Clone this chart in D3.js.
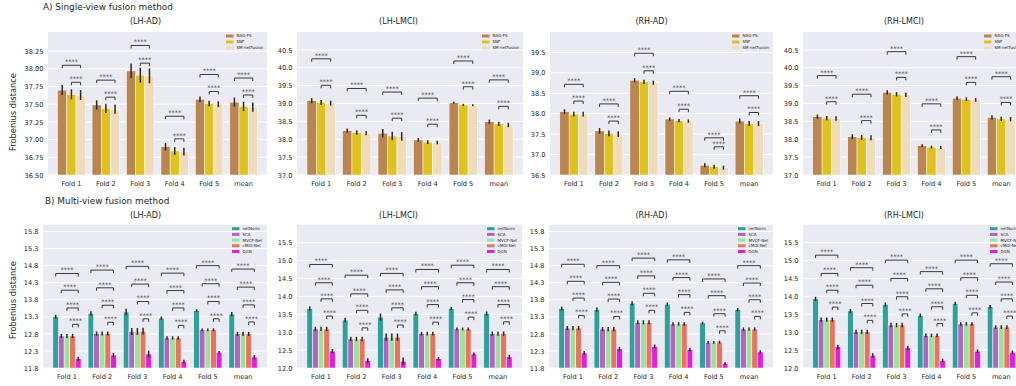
<!DOCTYPE html>
<html>
<head>
<meta charset="utf-8">
<script src="https://cdn.jsdelivr.net/npm/d3@7"></script>
<style>
  html, body { margin: 0; padding: 0; background: #ffffff; }
  svg { display: block; font-family: "DejaVu Sans", sans-serif; }
</style>
</head>
<body>
<svg id="fig" width="1016" height="386"></svg>
<script>
// ---------- categories and labels ----------
const folds = ["Fold 1", "Fold 2", "Fold 3", "Fold 4", "Fold 5", "mean"];
const singleMethods = ["NAG-FS", "SNF", "SM-netFusion"];
const singleColors = ["#bb8551", "#dfc120", "#efdcba"];
const multiMethods = ["netNorm", "SCA", "MVCF-Net", "cMGI-Net", "DGN"];
const multiColors = ["#32a09a", "#b065c3", "#9ce29c", "#e8735e", "#df20df"];
const sectionTitles = ["A) Single-view fusion method", "B) Multi-view fusion method"];
const panelTitles = ["(LH-AD)", "(LH-LMCI)", "(RH-AD)", "(RH-LMCI)"];
const yLabel = "Frobenius distance";
const sigLabel = "****";

// ---------- tick values ----------
const ticksSingleLhAd = [36.5, 36.75, 37.0, 37.25, 37.5, 37.75, 38.0, 38.25];
const ticksSingleLmci = [37.0, 37.5, 38.0, 38.5, 39.0, 39.5, 40.0, 40.5];
const ticksSingleRhAd = [36.5, 37.0, 37.5, 38.0, 38.5, 39.0, 39.5];
const ticksMultiAd = [11.8, 12.3, 12.8, 13.3, 13.8, 14.3, 14.8, 15.3, 15.8];
const ticksMultiLmci = [12.0, 12.5, 13.0, 13.5, 14.0, 14.5, 15.0, 15.5];

// ---------- single-view fusion: mean distance per fold (NAG-FS, SNF, SM-netFusion) ----------
const singleLhAd = [
  [37.70, 37.49, 37.97, 36.90, 37.57, 37.53],
  [37.64, 37.44, 37.91, 36.84, 37.51, 37.47],
  [37.63, 37.43, 37.90, 36.83, 37.50, 37.46]
];
const singleLhAdErr = [0.07, 0.065, 0.105, 0.055, 0.04, 0.065];
const singleLhAdSig = [
  [38.05, 37.84, 38.33, 37.33, 37.92, 37.87],   // NAG-FS vs SM-netFusion
  [37.81, 37.60, 38.08, 37.01, 37.68, 37.63]    // SNF vs SM-netFusion
];

const singleLhLmci = [
  [39.08, 38.24, 38.17, 37.98, 39.02, 38.49],
  [39.03, 38.19, 38.09, 37.92, 38.96, 38.43],
  [39.01, 38.17, 38.08, 37.91, 38.95, 38.40]
];
const singleLhLmciErr = [0.07, 0.06, 0.12, 0.05, 0.03, 0.06];
const singleLhLmciSig = [
  [40.25, 39.42, 39.32, 39.15, 40.19, 39.66],
  [39.51, 38.67, 38.59, 38.42, 39.47, 38.92]
];

const singleRhAd = [
  [38.05, 37.58, 38.82, 37.87, 36.74, 37.82],
  [37.99, 37.52, 38.78, 37.83, 36.70, 37.76],
  [37.99, 37.50, 38.76, 37.82, 36.68, 37.76]
];
const singleRhAdErr = [0.06, 0.07, 0.05, 0.04, 0.05, 0.06];
const singleRhAdSig = [
  [38.72, 38.24, 39.48, 38.55, 37.41, 38.44],
  [38.31, 37.82, 39.05, 38.11, 37.19, 38.03]
];

const singleRhLmci = [
  [38.63, 38.07, 39.31, 37.82, 39.15, 38.61],
  [38.59, 38.05, 39.26, 37.78, 39.12, 38.57],
  [38.58, 38.04, 39.24, 37.77, 39.10, 38.56]
];
const singleRhLmciErr = [0.06, 0.07, 0.06, 0.04, 0.05, 0.06];
const singleRhLmciSig = [
  [39.78, 39.26, 40.45, 38.99, 40.31, 39.75],
  [39.05, 38.52, 39.73, 38.26, 39.59, 39.03]
];

// ---------- multi-view fusion: mean distance per fold (netNorm, SCA, MVCF-Net, cMGI-Net, DGN) ----------
const multiLhAd = [
  [13.30, 13.40, 13.44, 13.26, 13.48, 13.38],
  [12.74, 12.81, 12.87, 12.68, 12.92, 12.80],
  [12.74, 12.81, 12.87, 12.68, 12.92, 12.80],
  [12.74, 12.81, 12.88, 12.68, 12.92, 12.80],
  [12.07, 12.18, 12.21, 11.99, 12.26, 12.12]
];
const multiLhAdErr = [0.06, 0.06, 0.10, 0.05, 0.04, 0.06];
const multiLhAdSig = [
  [14.57, 14.67, 14.78, 14.58, 14.80, 14.70],   // netNorm vs DGN
  [14.08, 14.15, 14.26, 14.07, 14.27, 14.17],   // SCA vs DGN
  [13.56, 13.64, 13.75, 13.56, 13.75, 13.65],   // MVCF-Net vs DGN
  [13.08, 13.14, 13.24, 13.05, 13.24, 13.15]    // cMGI-Net vs DGN
];

const multiLhLmci = [
  [13.66, 13.34, 13.42, 13.52, 13.66, 13.52],
  [13.09, 12.81, 12.86, 12.96, 13.09, 12.96],
  [13.09, 12.81, 12.86, 12.96, 13.09, 12.96],
  [13.09, 12.81, 12.86, 12.96, 13.09, 12.96],
  [12.47, 12.21, 12.19, 12.26, 12.39, 12.31]
];
const multiLhLmciErr = [0.06, 0.06, 0.10, 0.05, 0.04, 0.06];
const multiLhLmciSig = [
  [14.89, 14.59, 14.64, 14.75, 14.87, 14.75],
  [14.38, 14.07, 14.18, 14.27, 14.38, 14.27],
  [13.93, 13.61, 13.68, 13.77, 13.91, 13.77],
  [13.45, 13.12, 13.20, 13.28, 13.42, 13.29]
];

const multiRhAd = [
  [13.54, 13.51, 13.70, 13.67, 13.12, 13.51],
  [12.97, 12.94, 13.14, 13.09, 12.55, 12.94],
  [12.97, 12.94, 13.14, 13.09, 12.55, 12.94],
  [12.97, 12.94, 13.14, 13.09, 12.56, 12.94],
  [12.24, 12.36, 12.43, 12.34, 11.93, 12.27]
];
const multiRhAdErr = [0.06, 0.06, 0.06, 0.05, 0.04, 0.05];
const multiRhAdSig = [
  [14.84, 14.80, 15.02, 14.97, 14.41, 14.80],
  [14.34, 14.31, 14.50, 14.45, 13.92, 14.29],
  [13.85, 13.82, 13.99, 13.95, 13.39, 13.80],
  [13.34, 13.31, 13.49, 13.43, 12.89, 13.31]
];

const multiRhLmci = [
  [13.93, 13.59, 13.77, 13.47, 13.80, 13.71],
  [13.35, 13.01, 13.20, 12.91, 13.23, 13.14],
  [13.35, 13.01, 13.20, 12.91, 13.23, 13.14],
  [13.35, 13.01, 13.20, 12.91, 13.23, 13.14],
  [12.59, 12.35, 12.56, 12.21, 12.47, 12.44]
];
const multiRhLmciErr = [0.06, 0.06, 0.06, 0.05, 0.05, 0.05];
const multiRhLmciSig = [
  [15.15, 14.80, 15.01, 14.69, 15.01, 14.91],
  [14.64, 14.31, 14.50, 14.21, 14.52, 14.40],
  [14.17, 13.80, 13.99, 13.71, 14.03, 13.93],
  [13.70, 13.33, 13.51, 13.24, 13.54, 13.45]
];

// ---------- layout ----------
const svg = d3.select("#fig");
const FONT = "DejaVu Sans, sans-serif";
const TEXT = "#262626";

const rowA = { top: 32, bottom: 175, titleY: 24, sectionY: 10.3, labelY: 112 };
const rowB = { top: 224.7, bottom: 368, titleY: 217.7, sectionY: 203.5, labelY: 300 };
const titleX = [145.5, 398.5, 651.5, 904];

const panels = [
  { row: rowA, col: 0, left: 48,  right: 267,  top: 38.52, ticks: ticksSingleLhAd, fmt: ".2f",
    methods: singleMethods, colors: singleColors, values: singleLhAd, err: singleLhAdErr, sig: singleLhAdSig },
  { row: rowA, col: 1, left: 297, right: 523,  top: 41.0, ticks: ticksSingleLmci, fmt: ".1f",
    methods: singleMethods, colors: singleColors, values: singleLhLmci, err: singleLhLmciErr, sig: singleLhLmciSig },
  { row: rowA, col: 2, left: 550, right: 773,  top: 40.0, ticks: ticksSingleRhAd, fmt: ".1f",
    methods: singleMethods, colors: singleColors, values: singleRhAd, err: singleRhAdErr, sig: singleRhAdSig },
  { row: rowA, col: 3, left: 803, right: 1025, top: 41.0, ticks: ticksSingleLmci, fmt: ".1f",
    methods: singleMethods, colors: singleColors, values: singleRhLmci, err: singleRhLmciErr, sig: singleRhLmciSig },
  { row: rowB, col: 0, left: 43,  right: 267,  top: 16.0, ticks: ticksMultiAd, fmt: ".1f",
    methods: multiMethods, colors: multiColors, values: multiLhAd, err: multiLhAdErr, sig: multiLhAdSig },
  { row: rowB, col: 1, left: 297, right: 522,  top: 16.0, ticks: ticksMultiLmci, fmt: ".1f",
    methods: multiMethods, colors: multiColors, values: multiLhLmci, err: multiLhLmciErr, sig: multiLhLmciSig },
  { row: rowB, col: 2, left: 549, right: 773,  top: 16.0, ticks: ticksMultiAd, fmt: ".1f",
    methods: multiMethods, colors: multiColors, values: multiRhAd, err: multiRhAdErr, sig: multiRhAdSig },
  { row: rowB, col: 3, left: 803, right: 1025, top: 16.0, ticks: ticksMultiLmci, fmt: ".1f",
    methods: multiMethods, colors: multiColors, values: multiRhLmci, err: multiRhLmciErr, sig: multiRhLmciSig }
];

// section headings
[rowA, rowB].forEach((r, i) => {
  svg.append("text")
    .attr("x", i === 0 ? 43 : 45).attr("y", r.sectionY)
    .attr("font-size", 8.9).attr("fill", TEXT).attr("font-family", FONT)
    .text(sectionTitles[i]);
});

function drawPanel(p) {
  const g = svg.append("g");
  const r = p.row;
  const lo = p.ticks[0];

  const x = d3.scaleBand().domain(folds).range([p.left, p.right]).paddingInner(0).paddingOuter(0.18);
  const groupW = x.bandwidth() * 0.8;
  const xs = d3.scaleBand().domain(p.methods).range([0, groupW]);
  const y = d3.scaleLinear().domain([lo, p.top]).range([r.bottom, r.top]);
  const barCenter = (fi, si) => x(folds[fi]) + (x.bandwidth() - groupW) / 2 + xs(p.methods[si]) + xs.bandwidth() / 2;

  // plotting area and horizontal grid
  g.append("rect")
    .attr("x", p.left).attr("y", r.top)
    .attr("width", p.right - p.left).attr("height", r.bottom - r.top)
    .attr("fill", "#eaeaf2");
  g.append("g").selectAll("line").data(p.ticks).join("line")
    .attr("x1", p.left).attr("x2", p.right)
    .attr("y1", d => y(d)).attr("y2", d => y(d))
    .attr("stroke", "#ffffff").attr("stroke-width", 1);

  // bars
  p.values.forEach((series, si) => {
    g.append("g").selectAll("rect").data(series).join("rect")
      .attr("x", (d, fi) => x(folds[fi]) + (x.bandwidth() - groupW) / 2 + xs(p.methods[si]))
      .attr("y", d => y(d))
      .attr("width", xs.bandwidth())
      .attr("height", d => y(lo) - y(d))
      .attr("fill", p.colors[si])
      .attr("stroke", "#ffffff").attr("stroke-width", 0.5);
  });

  // error bars
  p.values.forEach((series, si) => {
    g.append("g").selectAll("line").data(series).join("line")
      .attr("x1", (d, fi) => barCenter(fi, si)).attr("x2", (d, fi) => barCenter(fi, si))
      .attr("y1", (d, fi) => y(d - p.err[fi])).attr("y2", (d, fi) => y(d + p.err[fi]))
      .attr("stroke", "#2a2a2a").attr("stroke-width", 1.5);
  });

  // significance brackets: each method against the last one
  const last = p.methods.length - 1;
  p.sig.forEach((levels, k) => {
    levels.forEach((lv, fi) => {
      const xa = barCenter(fi, k), xb = barCenter(fi, last), yl = y(lv);
      g.append("path")
        .attr("d", `M${xa},${yl + 3}V${yl}H${xb}V${yl + 3}`)
        .attr("fill", "none").attr("stroke", "#3a3a3a").attr("stroke-width", 1);
      g.append("text")
        .attr("x", (xa + xb) / 2).attr("y", yl - 1)
        .attr("text-anchor", "middle").attr("font-size", 6.5)
        .attr("fill", "#3a3a3a").attr("font-family", FONT)
        .text(sigLabel);
    });
  });

  // axes
  const ya = g.append("g").attr("transform", `translate(${p.left},0)`)
    .call(d3.axisLeft(y).tickValues(p.ticks).tickFormat(d3.format(p.fmt)).tickSize(0).tickPadding(4.5));
  ya.select(".domain").remove();
  ya.attr("font-size", 6.6).attr("font-family", FONT);
  ya.selectAll("text").attr("fill", TEXT);

  const xa = g.append("g").attr("transform", `translate(0,${r.bottom})`)
    .call(d3.axisBottom(x).tickSize(0).tickPadding(6));
  xa.select(".domain").remove();
  xa.attr("font-size", 6.6).attr("font-family", FONT);
  xa.selectAll("text").attr("fill", TEXT);

  // legend
  const single = p.methods.length === 3;
  const lx = single ? p.right - 41 : p.right - 35;
  const ly0 = r.top + 4;
  const dy = single ? 6 : 5.7;
  const lg = g.append("g");
  p.methods.forEach((m, si) => {
    lg.append("rect")
      .attr("x", lx).attr("y", ly0 + si * dy - 1.5)
      .attr("width", 7.5).attr("height", 3)
      .attr("fill", p.colors[si]);
    lg.append("text")
      .attr("x", lx + 10.5).attr("y", ly0 + si * dy + 1.4)
      .attr("font-size", 4).attr("fill", TEXT).attr("font-family", FONT)
      .text(m);
  });

  // titles
  svg.append("text")
    .attr("x", titleX[p.col]).attr("y", r.titleY)
    .attr("text-anchor", "middle").attr("font-size", 8).attr("fill", TEXT).attr("font-family", FONT)
    .text(panelTitles[p.col]);
  if (p.col === 0) {
    svg.append("text")
      .attr("transform", `translate(16.3,${r.labelY}) rotate(-90)`)
      .attr("text-anchor", "middle").attr("font-size", 8.3).attr("fill", TEXT).attr("font-family", FONT)
      .text(yLabel);
  }
}

panels.forEach(drawPanel);
</script>
</body>
</html>
